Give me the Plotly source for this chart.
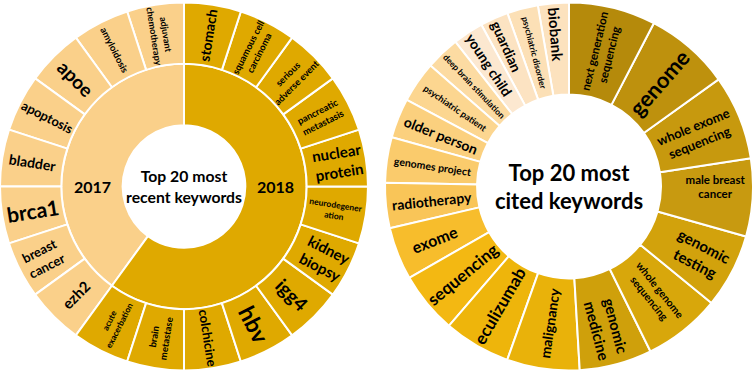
import plotly.graph_objects as go

# ---------------- Left: Top 20 most recent keywords ----------------
left_title = "Top 20 most<br>recent keywords"
years = ["2017", "2018"]
kw_2017 = ["adjuvant chemotherapy", "amyloidosis", "apoe", "apoptosis",
           "bladder", "brca1", "breast cancer", "ezh2"]
kw_2018 = ["acute exacerbation", "brain metastase", "colchicine", "hbv", "igg4",
           "kidney biopsy", "neurodegeneration", "nuclear protein",
           "pancreatic metastasis", "serious adverse event",
           "squamous cell carcinoma", "stomach"]
kw_2017_text = ["adjuvant<br>chemotherapy", "amyloidosis", "apoe", "apoptosis",
                "bladder", "brca1", "breast<br>cancer", "ezh2"]
kw_2018_text = ["acute<br>exacerbation", "brain<br>metastase", "colchicine", "hbv", "igg4",
                "kidney<br>biopsy", "neurodegener<br>ation", "nuclear<br>protein",
                "pancreatic<br>metastasis", "serious<br>adverse event",
                "squamous cell<br>carcinoma", "stomach"]
kw_2017_size = [9.5, 9.5, 19, 13, 14, 21, 13, 15]
kw_2018_size = [8.5, 9.5, 13, 23, 19, 15, 8.5, 15, 9.5, 9.5, 10.5, 14]

# ---------------- Right: Top 20 most cited keywords ----------------
right_title = "Top 20 most<br>cited keywords"
cited_kw = ["biobank", "psychiatric disorder", "guardian", "young child",
            "deep brain stimulation", "psychiatric patient", "older person",
            "genomes project", "radiotherapy", "exome", "sequencing", "eculizumab",
            "malignancy", "genomic medicine", "whole genome sequencing",
            "genomic testing", "male breast cancer", "whole exome sequencing",
            "genome", "next generation sequencing"]
cited_text = ["biobank", "psychiatric disorder", "guardian", "young child",
              "deep brain stimulation", "psychiatric patient", "older person",
              "genomes project", "radiotherapy", "exome", "sequencing", "eculizumab",
              "malignancy", "genomic<br>medicine", "whole genome<br>sequencing",
              "genomic<br>testing", "male breast<br>cancer", "whole exome<br>sequencing",
              "genome", "next generation<br>sequencing"]
cited_values = [9.8, 9.8, 8.9, 9.7, 10.8, 13.0, 12.6, 14.4, 14.3, 16.7, 19.5, 21.2,
                23.0, 23.0, 24.5, 23.5, 24.7, 26.8, 27.0, 27.5]
cited_size = [15, 8.5, 14, 14, 8.5, 9, 14, 10.5, 14, 16, 17, 17,
              14, 15, 10.5, 15, 11.5, 13, 22, 11.5]
cited_colors = ["#FCE2BE", "#FCE0B6", "#FCE3C2", "#FCE8D0", "#FCDBA2", "#FCD690",
                "#FBD07E", "#FACB6C", "#F9C558", "#F7BD2C", "#F3B812", "#EEB50B",
                "#E9B20A", "#CFA00B", "#D8A70B", "#D2A20C", "#C89A10", "#C7990E",
                "#BE910D", "#B58A0B"]

color_2017 = "#FAD08A"
color_2018 = "#DFA900"
text_color = "#000000"
font_family = "Lato, 'Open Sans', sans-serif"

# Build left sunburst
ids = ["root"] + years + kw_2017 + kw_2018
labels = [left_title] + years + kw_2017 + kw_2018
parents = [""] + ["root", "root"] + ["2017"] * len(kw_2017) + ["2018"] * len(kw_2018)
values = [len(kw_2017) + len(kw_2018), len(kw_2017), len(kw_2018)] + [1] * (len(kw_2017) + len(kw_2018))
texts = [left_title] + years + kw_2017_text + kw_2018_text
sizes = [17, 16, 16] + kw_2017_size + kw_2018_size
colors = ["#FFFFFF", color_2017, color_2018] + [color_2017] * len(kw_2017) + [color_2018] * len(kw_2018)

fig = go.Figure()
fig.add_trace(go.Sunburst(
    ids=ids, labels=labels, parents=parents, values=values,
    text=texts, textinfo="text", branchvalues="total", sort=False,
    rotation=90, insidetextorientation="radial",
    marker=dict(colors=colors, line=dict(color="#FFFFFF", width=2)),
    leaf=dict(opacity=1),
    textfont=dict(size=sizes, color=text_color, family=font_family, weight="bold"),
    hoverinfo="skip",
    domain=dict(x=[0, 0.4887], y=[0, 1]),
))

r_ids = ["root"] + cited_kw
r_parents = [""] + ["root"] * len(cited_kw)
r_values = [sum(cited_values)] + cited_values
r_texts = [right_title] + cited_text
r_sizes = [22] + cited_size
r_colors = ["#FFFFFF"] + cited_colors

fig.add_trace(go.Sunburst(
    ids=r_ids, labels=[right_title] + cited_kw, parents=r_parents, values=r_values,
    text=r_texts, textinfo="text", branchvalues="total", sort=False,
    rotation=90, insidetextorientation="radial",
    marker=dict(colors=r_colors, line=dict(color="#FFFFFF", width=2)),
    leaf=dict(opacity=1),
    textfont=dict(size=r_sizes, color=text_color, family=font_family, weight="bold"),
    hoverinfo="skip",
    domain=dict(x=[0.5113, 1], y=[0, 1]),
))

fig.update_layout(
    width=753, height=373,
    margin=dict(l=0, r=0, t=0, b=0),
    paper_bgcolor="#FFFFFF",
    plot_bgcolor="#FFFFFF",
)

fig.write_html(
    "out.html",
    config={"displayModeBar": False},
    post_script="document.body.style.margin='0';document.body.style.overflow='hidden';",
)
